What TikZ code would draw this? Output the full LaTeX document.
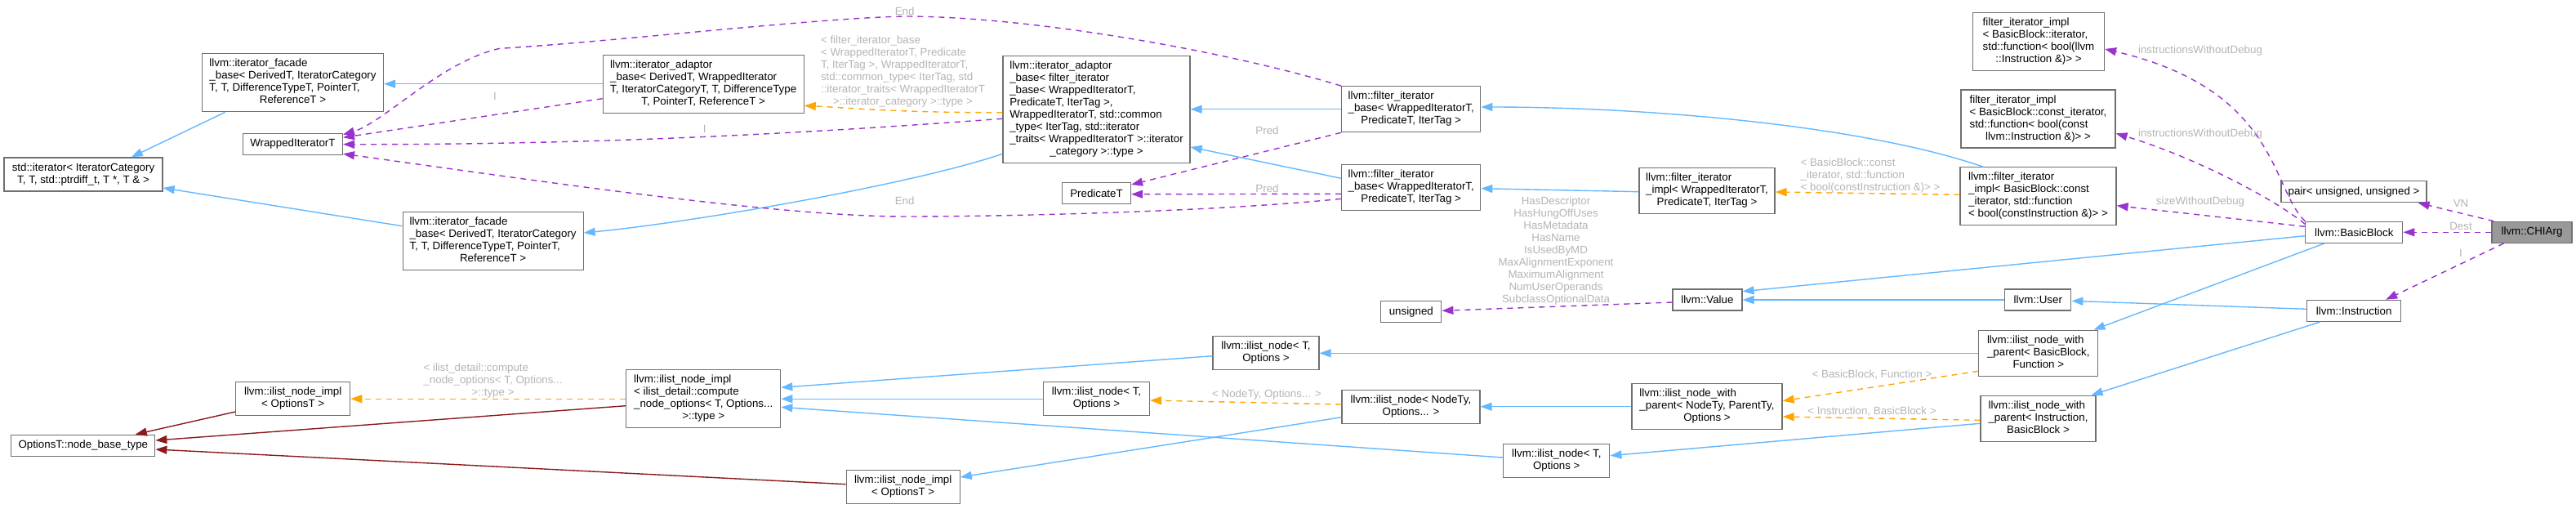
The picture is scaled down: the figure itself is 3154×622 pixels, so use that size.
\documentclass[tikz,border=0pt]{standalone}
\usepackage{fontspec}
\setmainfont{Liberation Sans}
\usetikzlibrary{arrows.meta}
\definecolor{inhC}{HTML}{63B8FF}
\definecolor{privC}{HTML}{8B1A1A}
\definecolor{tmplC}{HTML}{FFA500}
\definecolor{useC}{HTML}{9A32CD}
\definecolor{boxC}{HTML}{707070}
\definecolor{focusC}{HTML}{999999}
\definecolor{lblC}{HTML}{B4B4B4}
\def\lwEdge{1.4pt}
\def\lwBox{1.2pt}
% doxygen style label: left lines, last line centred
\newcommand{\dlines}[2]{\begin{tabular}{@{}l@{}}#1\\\multicolumn{1}{@{}c@{}}{#2}\end{tabular}}

\begin{document}
\begin{tikzpicture}[x=1pt, y=-1pt, font=\fontsize{13.33}{15}\selectfont,
  box/.style={draw=boxC, fill=white, line width=\lwBox, inner sep=0pt},
  focus/.style={box, fill=focusC},
  lbl/.style={text=lblC, align=center, inner sep=0pt},
  inh/.style={draw=inhC, line width=\lwEdge, -{Triangle[length=14pt, width=10pt]}},
  priv/.style={draw=privC, line width=\lwEdge, -{Triangle[length=14pt, width=10pt]}},
  tmpl/.style={draw=tmplC, line width=\lwEdge, dash pattern=on 7pt off 6pt, -{Triangle[length=14pt, width=10pt]}},
  usage/.style={draw=useC, line width=\lwEdge, dash pattern=on 7pt off 6pt, -{Triangle[length=14pt, width=10pt]}}]

  \useasboundingbox (0,0) rectangle (3154,622);

  % Iterator classes
  \node[box, minimum width=194, minimum height=41] (stdIter) at (102,213.5)
    {\dlines{std::iterator< IteratorCategory}{T, T, std::ptrdiff\_t, T *, T \& >}};
  \node[box, minimum width=222, minimum height=71] (ifTop) at (358.5,101.3)
    {\dlines{llvm::iterator\_facade\\\_base< DerivedT, IteratorCategory\\T, T, DifferenceTypeT, PointerT,}{ReferenceT >}};
  \node[box, minimum width=221, minimum height=71] (ifBot) at (603.6,294.7)
    {\dlines{llvm::iterator\_facade\\\_base< DerivedT, IteratorCategory\\T, T, DifferenceTypeT, PointerT,}{ReferenceT >}};
  \node[box, minimum width=122, minimum height=26] (wrapIt) at (358.4,176.3) {WrappedIteratorT};
  \node[box, minimum width=246, minimum height=71] (adaptTop) at (861.2,102.7)
    {\dlines{llvm::iterator\_adaptor\\\_base< DerivedT, WrappedIterator\\T, IteratorCategoryT, T, DifferenceType}{T, PointerT, ReferenceT >}};
  \node[box, minimum width=229, minimum height=131] (adaptFilt) at (1342.5,133.7)
    {\dlines{llvm::iterator\_adaptor\\\_base< filter\_iterator\\\_base< WrappedIteratorT,\\ PredicateT, IterTag >,\\ WrappedIteratorT, std::common\\\_type< IterTag, std::iterator\\\_traits< WrappedIteratorT >::iterator}{\_category >::type >}};
  \node[box, minimum width=84, minimum height=26] (predT) at (1342.5,236.3) {PredicateT};
  \node[box, minimum width=170, minimum height=56] (fbaseTop) at (1727.7,133.7)
    {\dlines{llvm::filter\_iterator\\\_base< WrappedIteratorT,}{PredicateT, IterTag >}};
  \node[box, minimum width=170, minimum height=56] (fbaseBot) at (1727.7,229.5)
    {\dlines{llvm::filter\_iterator\\\_base< WrappedIteratorT,}{PredicateT, IterTag >}};
  \node[box, minimum width=166, minimum height=56] (fimplGen) at (2090,233.7)
    {\dlines{llvm::filter\_iterator\\\_impl< WrappedIteratorT,}{PredicateT, IterTag >}};
  \node[box, minimum width=161, minimum height=71] (fiIter) at (2496,50.8)
    {\dlines{filter\_iterator\_impl\\< BasicBlock::iterator,\\std::function< bool(llvm}{::Instruction \&)> >}};
  \node[box, minimum width=189, minimum height=71] (fiConstIter) at (2495.5,145.5)
    {\dlines{filter\_iterator\_impl\\< BasicBlock::const\_iterator,\\std::function< bool(const}{llvm::Instruction \&)> >}};
  \node[box, minimum width=191, minimum height=71] (fimplConst) at (2495.5,240.2)
    {\dlines{llvm::filter\_iterator\\\_impl< BasicBlock::const\\\_iterator, std::function}{< bool(constInstruction \&)> >}};

  % Value side
  \node[box, minimum width=178, minimum height=26] (pairT) at (2882,234.7) {pair< unsigned, unsigned >};
  \node[box, minimum width=119, minimum height=26] (basicBlock) at (2882.3,284.3) {llvm::BasicBlock};
  \node[focus, minimum width=98, minimum height=26] (chiArg) at (3100,284.3) {llvm::CHIArg};
  \node[box, minimum width=74, minimum height=26] (unsignedT) at (1727.8,381.7) {unsigned};
  \node[box, minimum width=85, minimum height=26] (value) at (2090.4,367) {llvm::Value};
  \node[box, minimum width=81, minimum height=26] (user) at (2495.3,367) {llvm::User};
  \node[box, minimum width=115, minimum height=26] (instr) at (2882.2,380.3) {llvm::Instruction};

  % ilist nodes
  \node[box, minimum width=146, minimum height=56] (nwpBB) at (2495.8,432.3)
    {\dlines{llvm::ilist\_node\_with\\\_parent< BasicBlock,}{Function >}};
  \node[box, minimum width=141, minimum height=56] (nwpInstr) at (2495.5,512.2)
    {\dlines{llvm::ilist\_node\_with\\\_parent< Instruction,}{BasicBlock >}};
  \node[box, minimum width=184, minimum height=56] (nwpGen) at (2090,497.7)
    {\dlines{llvm::ilist\_node\_with\\\_parent< NodeTy, ParentTy,}{Options >}};
  \node[box, minimum width=169, minimum height=41] (nodeTy) at (1727.5,497.7)
    {\dlines{llvm::ilist\_node< NodeTy,}{Options... >}};
  \node[box, minimum width=130, minimum height=41] (nodeBot) at (1905.8,564.3)
    {\dlines{llvm::ilist\_node< T,}{Options >}};
  \node[box, minimum width=130, minimum height=41] (nodeTop) at (1550,432.2)
    {\dlines{llvm::ilist\_node< T,}{Options >}};
  \node[box, minimum width=130, minimum height=41] (nodeMid) at (1342.5,488.2)
    {\dlines{llvm::ilist\_node< T,}{Options >}};
  \node[box, minimum width=189, minimum height=71] (implGen) at (861.2,488.2)
    {\dlines{llvm::ilist\_node\_impl\\< ilist\_detail::compute\\\_node\_options< T, Options...}{>::type >}};
  \node[box, minimum width=140, minimum height=41] (implTop) at (358.7,488.2)
    {\dlines{llvm::ilist\_node\_impl}{< OptionsT >}};
  \node[box, minimum width=139, minimum height=41] (implBot) at (1105.7,596.2)
    {\dlines{llvm::ilist\_node\_impl}{< OptionsT >}};
  \node[box, minimum width=176, minimum height=26] (nodeBase) at (101.8,545.3) {OptionsT::node\_base\_type};

  % Public inheritance
  \draw[inh] ([xshift=-83]ifTop.south) -- ([xshift=58.7]stdIter.north);
  \draw[inh] ([yshift=18]ifBot.west) -- ([yshift=-16.5]stdIter.east);
  \draw[inh] (adaptTop.west) -- (adaptTop.west -| ifTop.east);
  \draw[inh] ([yshift=-54.6]adaptFilt.west) .. controls (1120,225) and (850,272) .. ([yshift=9.7]ifBot.east);
  \draw[inh] (fbaseTop.west) -- (fbaseTop.west -| adaptFilt.east);
  \draw[inh] ([yshift=11.2]fbaseBot.west) -- ([yshift=-46.3]adaptFilt.east);
  \draw[inh] ([yshift=-1]fimplGen.west) -- ([yshift=-1.2]fbaseBot.east);
  \draw[inh] ([xshift=-67.5]fimplConst.north) .. controls (2278,152.7) and (2012.6,131) .. ([yshift=2.7]fbaseTop.east);
  \draw[inh] ([yshift=-4.4]basicBlock.west) -- ([yshift=10.3]value.east);
  \draw[inh] (user.west) -- (user.west -| value.east);
  \draw[inh] ([yshift=2]instr.west) -- ([yshift=-1.3]user.east);
  \draw[inh] ([xshift=-36.3]basicBlock.south) -- ([xshift=-6]nwpBB.north east);
  \draw[inh] ([xshift=-41.2]instr.south) -- ([xshift=-6]nwpInstr.north east);
  \draw[inh] (nwpBB.west) -- (nwpBB.west -| nodeTop.east);
  \draw[inh] ([yshift=-6.1]nwpInstr.west) -- ([yshift=6.6]nodeBot.east);
  \draw[inh] (nwpGen.west) -- (nwpGen.west -| nodeTy.east);
  \draw[inh] ([yshift=-3.5]nodeTop.west) -- ([yshift=13.9]implGen.east);
  \draw[inh] (nodeMid.west) -- (nodeMid.west -| implGen.east);
  \draw[inh] ([yshift=4.3]nodeBot.west) -- ([yshift=-10.1]implGen.east);
  \draw[inh] ([yshift=-13]nodeTy.west) -- ([yshift=12.2]implBot.east);

  % Private inheritance
  \draw[priv] ([yshift=-15.8]implTop.west) -- ([xshift=64]nodeBase.north);
  \draw[priv] ([yshift=-8.5]implGen.west) -- ([yshift=6.3]nodeBase.east);
  \draw[priv] ([yshift=3.5]implBot.west) -- ([yshift=-4.7]nodeBase.east);

  % Template instances
  \draw[tmpl] ([yshift=-4]adaptFilt.west) .. controls (1100,138) and (1040,132) .. ([yshift=-26.6]adaptTop.east);
  \draw[tmpl] (implGen.west) -- (implGen.west -| implTop.east);
  \draw[tmpl] ([yshift=2.7]nodeTy.west) -- ([yshift=-1.8]nodeMid.east);
  \draw[tmpl] ([yshift=1.9]fimplConst.west) -- ([yshift=-1.3]fimplGen.east);
  \draw[tmpl] ([yshift=-22]nwpBB.west) -- ([yshift=7]nwpGen.east);
  \draw[tmpl] ([yshift=-2.1]nwpInstr.west) -- ([yshift=-12.3]nwpGen.east);

  % Usage
  \draw[usage] ([yshift=-18]adaptTop.west) -- ([yshift=8]wrapIt.east);
  \draw[usage] ([yshift=-11.6]adaptFilt.west) .. controls (1000,162) and (750,177) .. ([yshift=-0.4]wrapIt.east);
  \draw[usage] (fbaseTop.north west) .. controls (1500,62) and (1260,20) .. (1107.6,20)
    .. controls (1000,22) and (740,52) .. (612,59.3)
    .. controls (540,75) and (470,150) .. ([yshift=-2]wrapIt.north east);
  \draw[usage] ([yshift=-13.8]fbaseBot.west) .. controls (1500,258) and (1250,265) .. (1107.6,265)
    .. controls (950,265) and (650,220) .. ([yshift=-12]wrapIt.east);
  \draw[usage] (fbaseTop.south west) -- ([yshift=10.3]predT.east);
  \draw[usage] ([yshift=-7.8]fbaseBot.west) -- ([yshift=-1.4]predT.east);
  \draw[usage] ([yshift=-3]value.west) -- ([yshift=1.4]unsignedT.east);
  \draw[usage] (basicBlock.north west) .. controls (2780,230) and (2790,110) .. ([yshift=-9.2]fiIter.east);
  \draw[usage] ([yshift=10]basicBlock.west) .. controls (2780,240) and (2680,190) .. ([yshift=-17.8]fiConstIter.east);
  \draw[usage] ([yshift=7]basicBlock.west) -- ([yshift=-11.5]fimplConst.east);
  \draw[usage] ([xshift=3]chiArg.north west) -- ([xshift=-11]pairT.south east);
  \draw[usage] (chiArg.west) -- (chiArg.west -| basicBlock.east);
  \draw[usage] ([xshift=-34.4]chiArg.south) -- ([xshift=39]instr.north);

  % Edge labels
  \node[lbl] (lbEndTop) at (1107.6,13.3) {End};
  \node[lbl] (lbAdapt) at (1105.5,88.2)
    {\dlines{< filter\_iterator\_base\\< WrappedIteratorT, Predicate\\T, IterTag >, WrappedIteratorT,\\ std::common\_type< IterTag, std\\::iterator\_traits< WrappedIteratorT}{>::iterator\_category >::type >}};
  \node[lbl] (lbIa) at (606,118.3) {I};
  \node[lbl] (lbIb) at (862.6,157.7) {I};
  \node[lbl] (lbEndBot) at (1107.6,246) {End};
  \node[lbl] (lbPredA) at (1551.5,159.3) {Pred};
  \node[lbl] (lbPredB) at (1551.5,231) {Pred};
  \node[lbl] (lbFields) at (1905,306.7)
    {HasDescriptor\\HasHungOffUses\\HasMetadata\\HasName\\IsUsedByMD\\MaxAlignmentExponent\\MaximumAlignment\\NumUserOperands\\SubclassOptionalData};
  \node[lbl] (lbConstIt) at (2290,215)
    {\dlines{< BasicBlock::const\\\_iterator, std::function}{< bool(constInstruction \&)> >}};
  \node[lbl] (lbIlistOpt) at (603.6,466.7)
    {\dlines{< ilist\_detail::compute\\\_node\_options< T, Options...}{>::type >}};
  \node[lbl] (lbNodeTy) at (1551,483.3) {< NodeTy, Options... >};
  \node[lbl] (lbBBFunc) at (2292,458.3) {< BasicBlock, Function >};
  \node[lbl] (lbInstBB) at (2292,503.3) {< Instruction, BasicBlock >};
  \node[lbl] (lbWoDbgA) at (2694,61.7) {instructionsWithoutDebug};
  \node[lbl] (lbWoDbgB) at (2694,164) {instructionsWithoutDebug};
  \node[lbl] (lbSize) at (2694,246.7) {sizeWithoutDebug};
  \node[lbl] (lbVN) at (3013,248.7) {VN};
  \node[lbl] (lbDest) at (3013,277.3) {Dest};
  \node[lbl] (lbI) at (3013,310) {I};
\end{tikzpicture}
\end{document}
